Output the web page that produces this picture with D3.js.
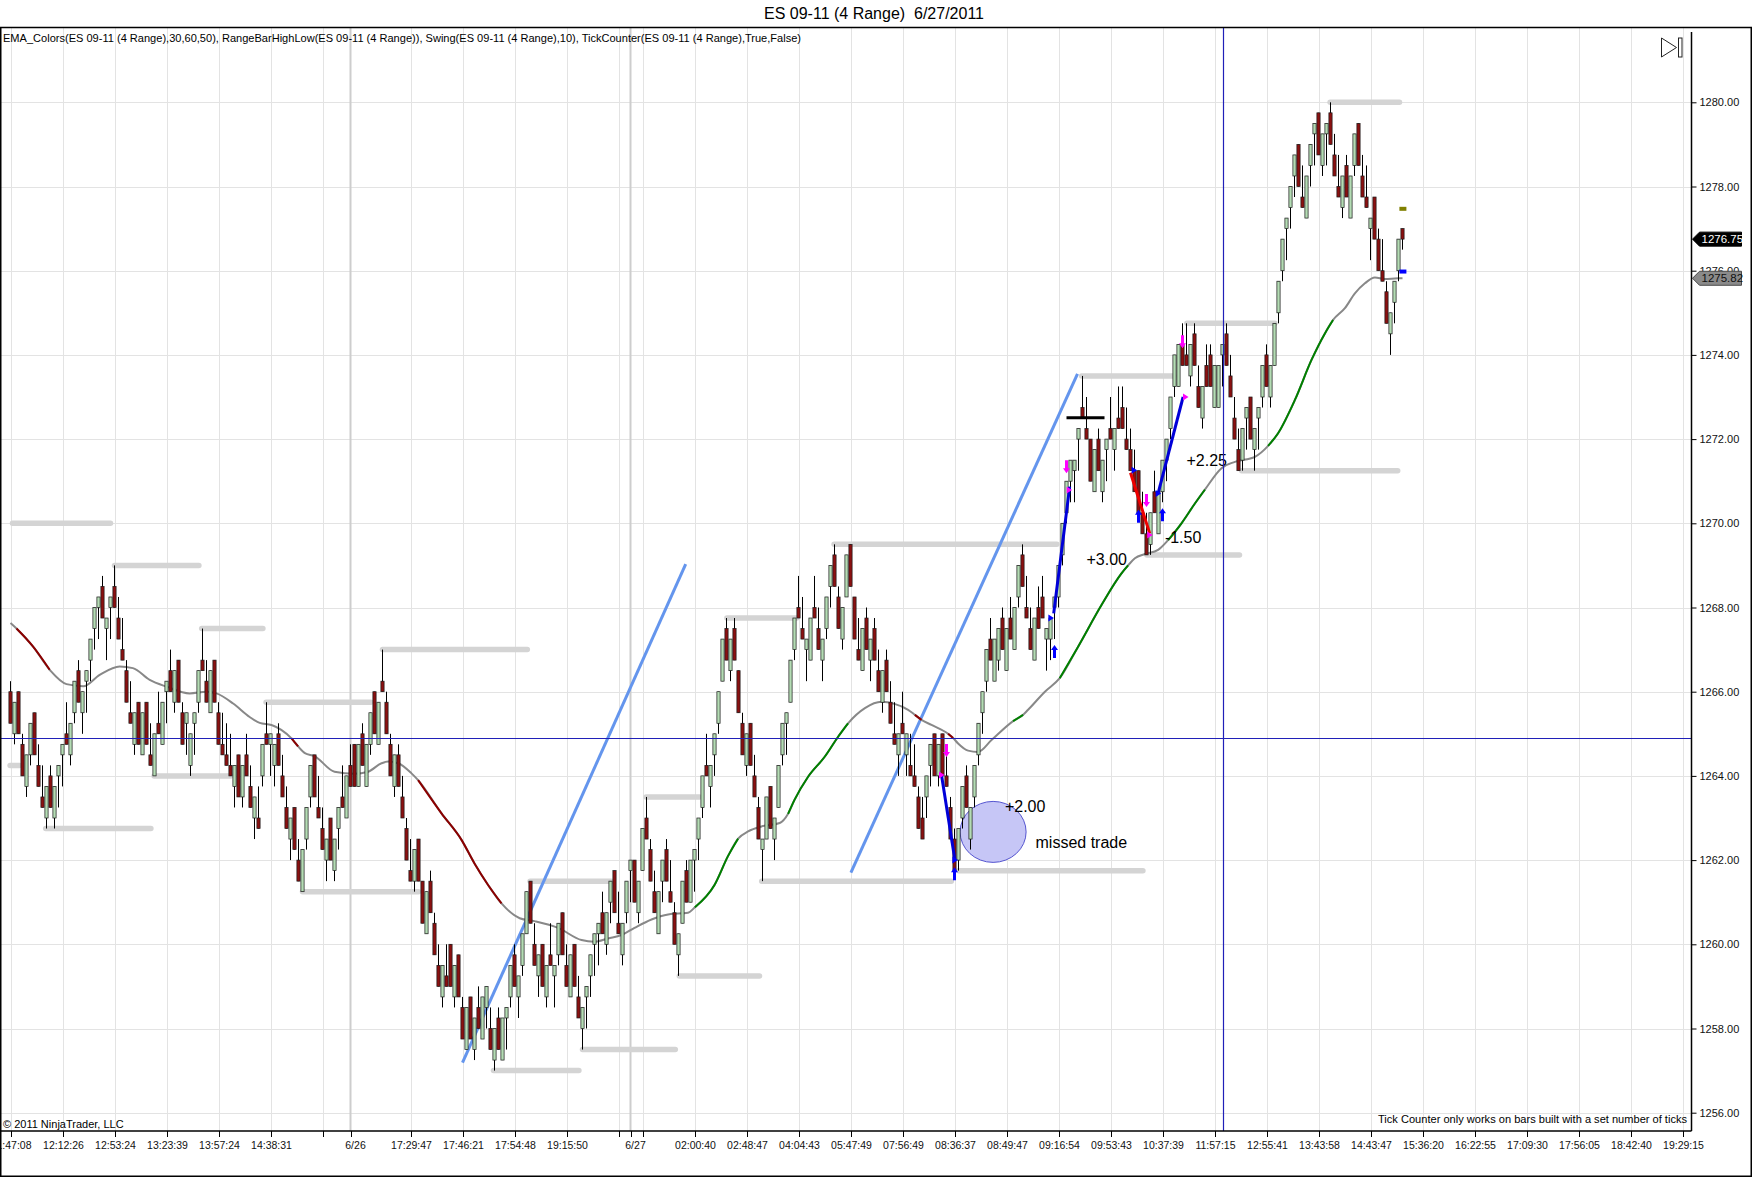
<!DOCTYPE html>
<html>
<head>
<meta charset="utf-8">
<script src="https://cdn.jsdelivr.net/npm/d3@7"></script>
<style>
html, body { margin: 0; padding: 0; background: #fff; }
svg { display: block; font-family: "Liberation Sans", Arial, sans-serif; }
</style>
</head>
<body>
<svg id="chart" width="1752" height="1177"></svg>
<script>
// range bars (4 ticks), open / close per bar
const barOpen = [
  1266.0, 1265.0, 1266.0, 1264.75, 1263.75, 1264.5, 1265.5, 1264.25, 1263.5, 1263.0,
  1264.0, 1263.0, 1264.0, 1264.5, 1265.0, 1264.5, 1265.5, 1266.5, 1265.5, 1266.25,
  1266.75, 1267.5, 1268.0, 1268.5, 1267.5, 1268.0, 1268.5, 1267.75, 1267.0, 1266.5,
  1265.5, 1264.75, 1265.75, 1264.5, 1265.75, 1264.5, 1264.0, 1265.25, 1264.75, 1266.0,
  1266.5, 1265.75, 1266.75, 1265.5, 1265.25, 1264.25, 1265.25, 1265.75, 1266.75, 1266.25,
  1265.5, 1266.75, 1265.5, 1264.75, 1264.5, 1264.25, 1263.75, 1264.5, 1263.5, 1264.5,
  1263.75, 1263.0, 1263.0, 1264.0, 1265.0, 1264.75, 1264.25, 1265.0, 1264.0, 1263.25,
  1262.5, 1263.25, 1262.0, 1261.25, 1262.5, 1263.5, 1264.5, 1263.25, 1262.75, 1262.0,
  1263.0, 1261.75, 1262.75, 1263.5, 1263.0, 1264.25, 1264.75, 1263.75, 1265.0, 1263.75,
  1264.75, 1266.0, 1264.75, 1266.25, 1265.75, 1264.75, 1263.75, 1264.5, 1263.5, 1262.75,
  1261.75, 1261.5, 1262.5, 1261.5, 1260.25, 1261.5, 1260.5, 1259.5, 1258.75, 1259.25,
  1260.0, 1258.75, 1259.75, 1258.5, 1257.5, 1258.75, 1257.5, 1258.5, 1257.75, 1258.5,
  1258.0, 1257.25, 1258.25, 1257.25, 1258.25, 1258.75, 1259.75, 1258.75, 1259.5, 1260.25,
  1261.5, 1260.0, 1259.25, 1260.0, 1258.75, 1259.75, 1259.25, 1259.75, 1260.75, 1259.5,
  1258.75, 1260.0, 1258.75, 1258.0, 1258.75, 1259.25, 1260.0, 1260.25, 1260.75, 1260.0,
  1261.0, 1261.75, 1260.5, 1259.75, 1260.75, 1261.75, 1262.0, 1260.75, 1261.75, 1263.0,
  1262.25, 1261.25, 1260.25, 1261.5, 1262.25, 1261.25, 1260.75, 1259.75, 1260.5, 1261.75,
  1261.0, 1262.0, 1262.5, 1263.25, 1264.25, 1263.75, 1264.5, 1265.25, 1266.25, 1267.5,
  1266.5, 1267.5, 1266.5, 1265.25, 1264.25, 1265.25, 1264.0, 1263.25, 1262.25, 1262.5,
  1263.75, 1262.5, 1263.25, 1264.5, 1265.25, 1265.75, 1267.0, 1268.0, 1267.5, 1267.0,
  1266.75, 1268.0, 1267.5, 1266.75, 1267.5, 1268.5, 1269.25, 1268.25, 1267.25, 1268.25,
  1269.5, 1268.25, 1267.0, 1266.5, 1267.75, 1266.75, 1267.5, 1266.5, 1265.75, 1266.75,
  1265.75, 1265.0, 1264.5, 1265.25, 1264.5, 1264.25, 1264.0, 1263.5, 1263.0, 1263.5,
  1264.25, 1265.0, 1264.0, 1265.0, 1264.0, 1263.25, 1262.5, 1262.0, 1263.0, 1264.0,
  1262.5, 1263.5, 1264.5, 1265.5, 1266.25, 1267.25, 1266.25, 1266.75, 1267.75, 1266.5,
  1267.75, 1267.0, 1268.25, 1269.25, 1268.0, 1267.5, 1266.75, 1268.0, 1268.25, 1267.25,
  1267.25, 1268.0, 1268.25, 1269.25, 1270.25, 1271.0, 1271.25, 1272.0, 1272.75, 1272.25,
  1272.0, 1270.75, 1272.0, 1270.75, 1271.75, 1272.25, 1271.75, 1272.5, 1272.75, 1272.0,
  1271.75, 1271.25, 1271.25, 1270.25, 1269.75, 1269.5, 1270.75, 1269.75, 1270.75, 1271.5,
  1272.25, 1273.25, 1273.25, 1274.25, 1274.0, 1273.5, 1274.5, 1273.25, 1272.5, 1273.75,
  1274.0, 1272.75, 1272.75, 1274.0, 1274.5, 1273.5, 1272.5, 1271.75, 1271.5, 1272.5,
  1273.0, 1271.75, 1272.5, 1273.0, 1274.0, 1273.0, 1273.75, 1275.0, 1276.0, 1277.0,
  1277.5, 1278.25, 1279.0, 1277.75, 1277.25, 1278.5, 1279.25, 1279.75, 1278.5, 1279.25,
  1279.75, 1278.75, 1278.0, 1277.5, 1278.5, 1277.25, 1278.5, 1279.5, 1278.25, 1277.75,
  1277.0, 1277.75, 1276.75, 1276.0, 1275.5, 1274.5, 1275.25, 1276.0, 1277.0
];
const barClose = [
  1265.25, 1265.75, 1265.0, 1264.0, 1264.5, 1265.25, 1264.5, 1263.75, 1263.25, 1263.75,
  1263.25, 1263.75, 1264.25, 1264.75, 1264.75, 1265.25, 1266.25, 1265.75, 1266.0, 1266.5,
  1267.25, 1268.0, 1268.25, 1267.75, 1267.75, 1268.25, 1268.0, 1267.25, 1266.75, 1265.75,
  1265.25, 1265.5, 1264.75, 1265.5, 1264.75, 1264.25, 1265.0, 1265.0, 1265.75, 1266.25,
  1266.0, 1266.5, 1265.75, 1264.75, 1265.5, 1265.0, 1265.5, 1266.5, 1266.5, 1265.75,
  1266.5, 1265.75, 1264.75, 1264.5, 1264.25, 1264.0, 1264.25, 1263.5, 1264.25, 1264.0,
  1263.25, 1263.5, 1262.75, 1264.75, 1264.75, 1265.0, 1264.75, 1264.25, 1263.5, 1262.75,
  1263.0, 1262.25, 1261.5, 1262.25, 1263.25, 1264.25, 1263.5, 1263.0, 1262.25, 1262.5,
  1262.0, 1262.5, 1263.25, 1263.25, 1264.0, 1263.75, 1263.75, 1264.75, 1264.25, 1264.75,
  1265.5, 1265.0, 1265.75, 1266.0, 1265.0, 1264.0, 1264.5, 1263.75, 1263.0, 1262.0,
  1261.5, 1262.25, 1261.5, 1260.5, 1261.25, 1260.75, 1259.75, 1259.0, 1259.5, 1259.0,
  1259.0, 1259.5, 1258.75, 1257.75, 1258.5, 1257.75, 1258.25, 1258.0, 1258.75, 1259.0,
  1257.5, 1258.0, 1257.5, 1258.25, 1258.5, 1259.5, 1259.0, 1259.25, 1260.25, 1261.25,
  1260.5, 1259.5, 1259.75, 1259.0, 1259.5, 1259.5, 1259.5, 1260.5, 1259.75, 1259.0,
  1259.75, 1259.0, 1258.25, 1258.5, 1259.0, 1259.75, 1260.25, 1260.5, 1260.25, 1260.75,
  1261.5, 1260.75, 1260.25, 1260.5, 1261.5, 1262.0, 1261.0, 1261.5, 1262.75, 1262.5,
  1261.5, 1260.75, 1261.25, 1262.0, 1261.5, 1261.0, 1260.0, 1260.25, 1261.5, 1261.0,
  1262.0, 1262.25, 1263.0, 1264.0, 1264.0, 1264.25, 1265.0, 1266.0, 1267.25, 1266.75,
  1267.25, 1266.75, 1265.5, 1264.5, 1265.0, 1264.25, 1263.5, 1262.5, 1262.5, 1263.5,
  1262.75, 1263.0, 1264.25, 1265.25, 1265.5, 1266.75, 1267.75, 1267.75, 1267.25, 1267.25,
  1267.75, 1267.75, 1267.0, 1267.25, 1268.25, 1269.0, 1268.5, 1267.5, 1268.0, 1269.25,
  1268.5, 1267.25, 1266.75, 1267.5, 1267.0, 1267.25, 1266.75, 1266.0, 1266.5, 1266.0,
  1265.25, 1264.75, 1265.0, 1265.0, 1265.0, 1264.0, 1263.75, 1262.75, 1262.5, 1264.0,
  1264.75, 1264.0, 1264.75, 1264.0, 1263.75, 1262.5, 1261.75, 1262.75, 1263.75, 1263.25,
  1263.25, 1264.25, 1265.25, 1266.0, 1267.0, 1266.75, 1267.25, 1267.5, 1267.0, 1267.5,
  1267.25, 1268.0, 1269.0, 1268.5, 1267.75, 1267.0, 1267.75, 1267.5, 1267.75, 1267.5,
  1267.75, 1268.25, 1269.0, 1270.0, 1271.0, 1271.5, 1271.5, 1272.25, 1272.5, 1272.0,
  1271.0, 1271.75, 1271.25, 1271.5, 1272.0, 1272.0, 1272.25, 1272.25, 1272.25, 1271.75,
  1271.25, 1270.75, 1270.25, 1269.75, 1269.25, 1270.25, 1270.25, 1270.75, 1271.5, 1272.0,
  1273.0, 1274.0, 1274.25, 1273.75, 1273.75, 1274.25, 1273.75, 1272.75, 1273.25, 1273.25,
  1273.25, 1273.75, 1273.75, 1274.25, 1273.75, 1273.0, 1272.0, 1271.25, 1272.25, 1272.75,
  1272.0, 1272.25, 1272.75, 1273.75, 1273.25, 1273.75, 1274.75, 1275.75, 1276.75, 1277.25,
  1278.0, 1278.75, 1278.0, 1277.5, 1278.25, 1279.0, 1279.5, 1278.75, 1279.25, 1279.5,
  1279.0, 1278.25, 1277.75, 1278.25, 1277.75, 1278.25, 1279.25, 1278.5, 1277.75, 1277.5,
  1277.25, 1276.75, 1276.0, 1275.75, 1274.75, 1275.0, 1275.75, 1276.75, 1276.75
];
// the last bar is still forming
const lastHigh = 1277.0, lastLow = 1276.5;
const barRange = 1.0;

// EMA(30) read at bar positions; n = flat (gray), d = falling (red), u = rising (green)
const emaIdx = [0, 1.5, 5.65, 9.8, 14, 18.2, 22.3, 27.3, 30.6, 34.8,
  39, 44.8, 49, 51.5, 55.65, 59.8, 62.3, 65.25, 70.25, 71.9,
  73.6, 76, 81, 86, 89.4, 92.75, 94.4, 96.9, 100.25, 101.9,
  107.75, 112.75, 116, 119.4, 122.75, 127.3, 131, 136.9, 142.75, 146,
  149.4, 152.75, 156, 160.25, 164.4, 169.4, 171.1, 176, 179.4, 181.9,
  184.4, 187.75, 192.3, 194.4, 196, 199.4, 203.6, 206.9, 209.4, 213.6,
  217.75, 221, 224.4, 226.1, 227.75, 230.25, 234.4, 235.65, 236.9, 239.4,
  241.9, 245.25, 250.65, 253.15, 254.4, 258.6, 262.3, 266.9, 272.75, 277.75,
  279.4, 281.1, 283.6, 286.9, 289.4, 292.75, 296.1, 298.6, 302.75, 306.1,
  311.1, 314.4, 316.9, 321.1, 325.25, 328.6, 330.65, 333.6, 336.1, 338.6,
  341.1, 343.6, 346.9, 348];
const emaVal = [1267.63, 1267.5, 1267.07, 1266.52, 1266.18, 1266.13, 1266.4, 1266.6, 1266.56, 1266.28,
  1266.12, 1265.96, 1266.0, 1265.96, 1265.72, 1265.4, 1265.26, 1265.21, 1264.89, 1264.7,
  1264.54, 1264.47, 1264.1, 1264.05, 1264.1, 1264.3, 1264.34, 1264.3, 1264.06, 1263.9,
  1263.11, 1262.48, 1261.92, 1261.41, 1260.97, 1260.62, 1260.55, 1260.39, 1260.1, 1260.06,
  1260.14, 1260.22, 1260.39, 1260.59, 1260.71, 1260.75, 1260.88, 1261.41, 1262.1, 1262.51,
  1262.68, 1262.8, 1262.88, 1263.1, 1263.43, 1263.98, 1264.46, 1264.93, 1265.25, 1265.61,
  1265.76, 1265.71, 1265.57, 1265.45, 1265.33, 1265.21, 1265.0, 1264.9, 1264.77, 1264.6,
  1264.57, 1264.85, 1265.3, 1265.45, 1265.57, 1266.0, 1266.32, 1267.07, 1268.06, 1268.81,
  1269.0, 1269.17, 1269.27, 1269.37, 1269.6, 1270.0, 1270.47, 1270.8, 1271.31, 1271.46,
  1271.58, 1271.84, 1272.14, 1272.93, 1273.88, 1274.51, 1274.83, 1275.11, 1275.46, 1275.7,
  1275.84, 1275.8, 1275.82, 1275.82];
const emaCol = "nddnnnnnnn" + "nnnnnnnndn" + "nnnnnnnnnd" + "ddddnnnnnn" + "nnnnnnuuun" +
  "nnnuuuuunn" + "nnndnndnnn" + "nnunnnuuuu" + "nnnnuuunnn" + "nuuuuunnnn" + "nnnn";

// swing high / low levels (bar index from, to, price)
const swingFrom = [0, 25.5, 47.3, 63.4, 92.5, -0.6, 8.3, 35.4, 72.5, 120.25, 129.4, 142.5,
  158.4, 166.7, 178.6, 187.3, 205.4, 236.5, 267.3, 283.6, 293.6, 307.3, 329.4];
const swingTo = [25.5, 47.6, 63.6, 90.6, 129.7, 2.75, 35.6, 55.6, 102.5, 142.6, 150.7, 166.7,
  172.75, 187.75, 197.1, 235.7, 262.1, 283.6, 291.3, 307.75, 316.6, 347.3, 347.75];
const swingPrice = [1270.0, 1269.0, 1267.5, 1265.75, 1267.0, 1264.25, 1262.75, 1264.0, 1261.25,
  1257.0, 1261.5, 1257.5, 1263.5, 1259.25, 1267.75, 1261.5, 1269.5, 1261.75, 1273.5, 1269.25,
  1274.75, 1271.25, 1280.0];

// hand drawn trend lines
const trendFromIdx = [113, 210.1], trendFromPrice = [1257.19, 1261.70];
const trendToIdx = [168.8, 266.75], trendToPrice = [1269.03, 1273.55];

// trades from the tick counter
const tradeFromIdx = [232.75, 260.8, 280, 286.9], tradeFromPrice = [1264.02, 1267.86, 1271.2, 1270.71];
const tradeToIdx = [236.1, 264.8, 284.8, 293.15], tradeToPrice = [1262.0, 1270.87, 1269.76, 1273.0];
const tradeWin = [true, true, false, true];
const tradeText = ["+2.00", "+3.00", "-1.50", "+2.25"];
const tradeTextIdx = [248.6, 269, 288.6, 294.0], tradeTextPrice = [1263.28, 1269.14, 1269.68, 1271.5];
const upArrowIdx = [236, 261, 282, 288], upArrowPrice = [1261.83, 1267.11, 1270.32, 1270.36];
const downArrowIdx = [234, 264, 284, 293], downArrowPrice = [1264.45, 1271.19, 1270.39, 1274.16];
const entryMarkIdx = [232.75, 264.65, 284.8, 293.75], entryMarkPrice = [1264.02, 1270.79, 1269.72, 1273.0];
const exitMarkIdx = [236.1, 260.1, 280.9, 286.9], exitMarkPrice = [1262.0, 1267.75, 1271.26, 1270.71];
const blackLevelIdx = [264, 273.5], blackLevelPrice = 1272.51;
const missedIdx = 245.65, missedPrice = 1262.67;
const missedTextIdx = 256.25, missedTextPrice = 1262.42;

// crosshair, current swing dots, price markers
const crossIdx = 303, crossPrice = 1264.89;
const swingDotIdx = 348.1, swingHighDot = 1277.47, swingLowDot = 1275.98;
const lastPrice = 1276.75, lastEma = 1275.82;

// time axis
const tickIdx = [0, 13, 26, 39, 52, 65, 78, 100, 113, 126, 139, 152, 158, 171, 184, 197, 210, 223,
  236, 249, 262, 275, 288, 301, 314, 327, 340, 353, 366, 379, 392, 405, 418];
const tickLabel = ["11:47:08", "12:12:26", "12:53:24", "13:23:39", "13:57:24", "14:38:31", "",
  "17:29:47", "17:46:21", "17:54:48", "19:15:50", "", "", "02:00:40", "02:48:47", "04:04:43",
  "05:47:49", "07:56:49", "08:36:37", "08:49:47", "09:16:54", "09:53:43", "10:37:39", "11:57:15",
  "12:55:41", "13:43:58", "14:43:47", "15:36:20", "16:22:55", "17:09:30", "17:56:05", "18:42:40",
  "19:29:15"];
const dateIdx = [85, 155], dateLabel = ["6/26", "6/27"];
const priceTicks = d3.range(1256, 1281, 2);

const titleText = "ES 09-11 (4 Range)\u00a0 6/27/2011";
const legendText = "EMA_Colors(ES 09-11 (4 Range),30,60,50), RangeBarHighLow(ES 09-11 (4 Range)), Swing(ES 09-11 (4 Range),10), TickCounter(ES 09-11 (4 Range),True,False)";

// ---------------------------------------------------------------
const plotL = 1, plotR = 1691.5, plotT = 27, plotB = 1131;
const svg = d3.select('#chart');
const x = d3.scaleLinear().domain([0, 418]).range([10.5, 1682.5]);
const y = d3.scaleLinear().domain([1256, 1280]).range([1112.7, 102.3]);
const px = v => Math.round(v) + 0.5;

svg.append('defs').append('clipPath').attr('id', 'plotclip')
  .append('rect').attr('x', plotL).attr('y', plotT)
  .attr('width', plotR - plotL).attr('height', plotB - plotT);

const plot = svg.append('g').attr('clip-path', 'url(#plotclip)');

// grid
plot.append('g').selectAll('line').data(priceTicks).enter().append('line')
  .attr('x1', plotL).attr('x2', plotR)
  .attr('y1', d => px(y(d))).attr('y2', d => px(y(d)))
  .attr('stroke', '#e3e3e3');
plot.append('g').selectAll('line').data(tickIdx).enter().append('line')
  .attr('x1', d => px(x(d))).attr('x2', d => px(x(d)))
  .attr('y1', plotT).attr('y2', plotB)
  .attr('stroke', '#e3e3e3');
plot.append('g').selectAll('line').data(dateIdx).enter().append('line')
  .attr('x1', d => x(d)).attr('x2', d => x(d))
  .attr('y1', plotT).attr('y2', plotB)
  .attr('stroke', '#cdcdcd').attr('stroke-width', 2);

// swing levels
plot.append('g').selectAll('line').data(swingPrice).enter().append('line')
  .attr('x1', (d, i) => x(swingFrom[i]) + 2).attr('x2', (d, i) => x(swingTo[i]) - 2)
  .attr('y1', d => y(d)).attr('y2', d => y(d))
  .attr('stroke', '#d4d4d4').attr('stroke-width', 5.5).attr('stroke-linecap', 'round');

// missed trade ellipse (behind the bars)
plot.append('ellipse')
  .attr('cx', x(missedIdx)).attr('cy', y(missedPrice))
  .attr('rx', 33).attr('ry', 30.5)
  .attr('fill', '#c6c6f6').attr('stroke', '#5555d0').attr('stroke-width', 1);

// trend lines
plot.append('g').selectAll('line').data(trendFromIdx).enter().append('line')
  .attr('x1', d => x(d)).attr('y1', (d, i) => y(trendFromPrice[i]))
  .attr('x2', (d, i) => x(trendToIdx[i])).attr('y2', (d, i) => y(trendToPrice[i]))
  .attr('stroke', '#6495ed').attr('stroke-width', 3);

// EMA
const emaPts = emaIdx.map((d, i) => [d, emaVal[i]]);
const emaLine = d3.line().x(d => x(d[0])).y(d => y(d[1])).curve(d3.curveMonotoneX);
plot.append('path').attr('d', emaLine(emaPts))
  .attr('fill', 'none').attr('stroke', '#888').attr('stroke-width', 2);
const emaColors = { d: '#8b0000', u: '#008000' };
let runStart = null;
for (let i = 0; i <= emaCol.length; i++) {
  const c = emaCol[i];
  if (runStart !== null && c !== emaCol[runStart]) {
    plot.append('path').attr('d', emaLine(emaPts.slice(runStart, i + 1)))
      .attr('fill', 'none').attr('stroke', emaColors[emaCol[runStart]]).attr('stroke-width', 2);
    runStart = null;
  }
  if (runStart === null && (c === 'd' || c === 'u')) runStart = i;
}

// bars
const bars = barOpen.map((o, i) => {
  const c = barClose[i];
  const up = c >= o;
  let hi = up ? c : c + barRange;
  let lo = up ? c - barRange : c;
  if (i === barOpen.length - 1) { hi = lastHigh; lo = lastLow; }
  return { i, o, c, up, hi: Math.max(hi, o, c), lo: Math.min(lo, o, c) };
});
const barG = plot.append('g');
barG.selectAll('line').data(bars).enter().append('line')
  .attr('x1', d => x(d.i)).attr('x2', d => x(d.i))
  .attr('y1', d => y(d.hi)).attr('y2', d => y(d.lo))
  .attr('stroke', '#000').attr('stroke-width', 1);
barG.selectAll('rect').data(bars).enter().append('rect')
  .attr('x', d => x(d.i) - 1.6).attr('width', 3.2)
  .attr('y', d => y(Math.max(d.o, d.c)))
  .attr('height', d => Math.max(1, Math.abs(y(d.o) - y(d.c))))
  .attr('fill', d => d.up ? '#b4dcb4' : '#8b1010')
  .attr('stroke', '#1a1a1a').attr('stroke-width', 0.7);

// tick counter trades
plot.append('g').selectAll('line').data(tradeFromIdx).enter().append('line')
  .attr('x1', d => x(d)).attr('y1', (d, i) => y(tradeFromPrice[i]))
  .attr('x2', (d, i) => x(tradeToIdx[i])).attr('y2', (d, i) => y(tradeToPrice[i]))
  .attr('stroke', (d, i) => tradeWin[i] ? '#0000d8' : '#ee0000').attr('stroke-width', 3);

function upArrow(cx, ty) {
  return `M${cx},${ty}L${cx + 3.5},${ty + 5}L${cx + 1.5},${ty + 5}L${cx + 1.5},${ty + 13}` +
    `L${cx - 1.5},${ty + 13}L${cx - 1.5},${ty + 5}L${cx - 3.5},${ty + 5}Z`;
}
function downArrow(cx, by) {
  return `M${cx},${by}L${cx + 3.5},${by - 5}L${cx + 1.5},${by - 5}L${cx + 1.5},${by - 13}` +
    `L${cx - 1.5},${by - 13}L${cx - 1.5},${by - 5}L${cx - 3.5},${by - 5}Z`;
}
function tri(cx, cy) {
  return `M${cx - 2.5},${cy - 3.5}L${cx + 3},${cy}L${cx - 2.5},${cy + 3.5}Z`;
}
plot.append('g').selectAll('path').data(upArrowIdx).enter().append('path')
  .attr('d', (d, i) => upArrow(x(d), y(upArrowPrice[i]))).attr('fill', '#0000ff');
plot.append('g').selectAll('path').data(downArrowIdx).enter().append('path')
  .attr('d', (d, i) => downArrow(x(d), y(downArrowPrice[i]))).attr('fill', '#ff00ff');
plot.append('g').selectAll('path').data(entryMarkIdx).enter().append('path')
  .attr('d', (d, i) => tri(x(d), y(entryMarkPrice[i]))).attr('fill', '#ff00ff');
plot.append('g').selectAll('path').data(exitMarkIdx).enter().append('path')
  .attr('d', (d, i) => tri(x(d), y(exitMarkPrice[i]))).attr('fill', '#0000ff');

plot.append('line')
  .attr('x1', x(blackLevelIdx[0])).attr('x2', x(blackLevelIdx[1]))
  .attr('y1', y(blackLevelPrice)).attr('y2', y(blackLevelPrice))
  .attr('stroke', '#000').attr('stroke-width', 3);

plot.append('g').selectAll('text').data(tradeText).enter().append('text')
  .attr('x', (d, i) => x(tradeTextIdx[i])).attr('y', (d, i) => y(tradeTextPrice[i]))
  .attr('dy', '0.36em').attr('font-size', 16).attr('fill', '#000')
  .text(d => d);
plot.append('text')
  .attr('x', x(missedTextIdx)).attr('y', y(missedTextPrice)).attr('dy', '0.36em')
  .attr('font-size', 16).attr('fill', '#000').text('missed trade');

// current swing dots
plot.append('rect').attr('x', x(swingDotIdx) - 3.5).attr('y', y(swingHighDot) - 2)
  .attr('width', 7).attr('height', 4).attr('fill', '#808000');
plot.append('rect').attr('x', x(swingDotIdx) - 3.5).attr('y', y(swingLowDot) - 2)
  .attr('width', 7).attr('height', 4).attr('fill', '#0000ff');

// crosshair
plot.append('line').attr('x1', plotL).attr('x2', plotR)
  .attr('y1', px(y(crossPrice))).attr('y2', px(y(crossPrice)))
  .attr('stroke', '#2020b8').attr('stroke-width', 1.2);
plot.append('line').attr('x1', px(x(crossIdx))).attr('x2', px(x(crossIdx)))
  .attr('y1', plotT).attr('y2', plotB)
  .attr('stroke', '#2020b8').attr('stroke-width', 1.2);

// axes
const xAxis = d3.axisBottom(x).tickValues(tickIdx).tickSize(6).tickPadding(5)
  .tickFormat((d, i) => tickLabel[i]);
const xg = svg.append('g').attr('transform', `translate(0.5,${plotB})`).call(xAxis);
xg.select('.domain').remove();
xg.selectAll('text').attr('font-size', 10.5).attr('fill', '#111')
  .attr('font-family', '"Liberation Sans", Arial, sans-serif');
const dg = svg.append('g').attr('transform', `translate(0.5,${plotB})`)
  .call(d3.axisBottom(x).tickValues(dateIdx).tickSize(6).tickPadding(5)
    .tickFormat((d, i) => dateLabel[i]));
dg.select('.domain').remove();
dg.selectAll('text').attr('font-size', 10.5).attr('fill', '#111').attr('dx', 4)
  .attr('font-family', '"Liberation Sans", Arial, sans-serif');

const yAxis = d3.axisRight(y).tickValues(priceTicks).tickSize(5).tickPadding(3)
  .tickFormat(d3.format('.2f'));
const yg = svg.append('g').attr('transform', `translate(${plotR},0)`).call(yAxis);
yg.select('.domain').remove();
yg.selectAll('text').attr('font-size', 11).attr('fill', '#111')
  .attr('font-family', '"Liberation Sans", Arial, sans-serif');

// price markers on the axis
function marker(val, fill, stroke, color) {
  const yc = y(val);
  svg.append('path')
    .attr('d', `M${plotR + 1},${yc}L${plotR + 8},${yc - 7}L${plotR + 50},${yc - 7}L${plotR + 50},${yc + 7}L${plotR + 8},${yc + 7}Z`)
    .attr('fill', fill).attr('stroke', stroke).attr('stroke-width', 1);
  svg.append('text').attr('x', plotR + 10).attr('y', yc).attr('dy', '0.36em')
    .attr('font-size', 11.5).attr('fill', color).text(d3.format('.2f')(val));
}
marker(lastPrice, '#000', '#000', '#fff');
marker(lastEma, '#8a8a8a', '#4a4a4a', '#111');

// frame
svg.append('rect').attr('x', 0.75).attr('y', 27.5).attr('width', 1750.5).attr('height', 1148.75)
  .attr('fill', 'none').attr('stroke', '#000').attr('stroke-width', 1.5);
svg.append('line').attr('x1', 0).attr('x2', plotR).attr('y1', plotB).attr('y2', plotB)
  .attr('stroke', '#000').attr('stroke-width', 1.5);
svg.append('line').attr('x1', plotR).attr('x2', plotR).attr('y1', 32).attr('y2', plotB)
  .attr('stroke', '#000').attr('stroke-width', 1.5);

// go-to-end button
svg.append('path').attr('d', 'M1661.5,38L1676.5,47.5L1661.5,57Z')
  .attr('fill', '#fff').attr('stroke', '#222').attr('stroke-width', 1);
svg.append('rect').attr('x', 1678.5).attr('y', 38).attr('width', 3.5).attr('height', 19)
  .attr('fill', '#fff').attr('stroke', '#222').attr('stroke-width', 1);

// texts
svg.append('text').attr('x', 874).attr('y', 19).attr('text-anchor', 'middle')
  .attr('font-size', 16).attr('fill', '#000').text(titleText);
svg.append('text').attr('x', 3).attr('y', 42).attr('font-size', 11).attr('fill', '#000')
  .attr('textLength', 798).attr('lengthAdjust', 'spacingAndGlyphs').text(legendText);
svg.append('text').attr('x', 3).attr('y', 1128).attr('font-size', 11).attr('fill', '#000')
  .text('\u00a9 2011 NinjaTrader, LLC');
svg.append('text').attr('x', 1687).attr('y', 1122.5).attr('text-anchor', 'end')
  .attr('font-size', 11).attr('fill', '#000')
  .attr('textLength', 309).attr('lengthAdjust', 'spacingAndGlyphs')
  .text('Tick Counter only works on bars built with a set number of ticks');
</script>
</body>
</html>
